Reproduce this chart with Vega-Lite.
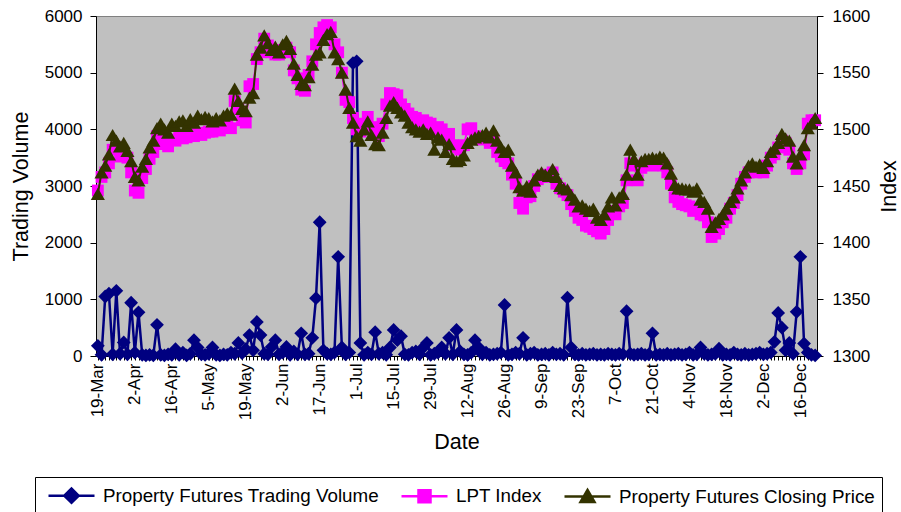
{
  "$schema": "https://vega.github.io/schema/vega-lite/v6.json",
  "width": 721,
  "height": 340,
  "autosize": {"type": "none"},
  "padding": {"left": 96, "top": 16, "right": 84, "bottom": 156},
  "background": "white",
  "config": {
    "font": "Liberation Sans",
    "view": {"fill": "#C0C0C0", "stroke": "#808080", "strokeWidth": 1},
    "axis": {"labelColor": "black", "titleColor": "black", "tickColor": "black", "domainColor": "black", "titleFontWeight": "normal", "labelFont": "Liberation Sans", "titleFont": "Liberation Sans", "grid": false}
  },
  "data": {"values": [
    {"d":"19-Mar","vol":180,"lpt":1446,"close":1443},
    {"d":"20-Mar","vol":20,"lpt":1458,"close":1462},
    {"d":"21-Mar","vol":1050,"lpt":1462,"close":1468},
    {"d":"24-Mar","vol":1100,"lpt":1470,"close":1478},
    {"d":"25-Mar","vol":30,"lpt":1482,"close":1495},
    {"d":"26-Mar","vol":1150,"lpt":1484,"close":1490},
    {"d":"27-Mar","vol":40,"lpt":1476,"close":1485},
    {"d":"28-Mar","vol":240,"lpt":1479,"close":1488},
    {"d":"31-Mar","vol":30,"lpt":1475,"close":1481},
    {"d":"1-Apr","vol":940,"lpt":1462,"close":1472},
    {"d":"2-Apr","vol":60,"lpt":1446,"close":1458},
    {"d":"3-Apr","vol":770,"lpt":1444,"close":1455},
    {"d":"4-Apr","vol":20,"lpt":1457,"close":1467},
    {"d":"7-Apr","vol":10,"lpt":1465,"close":1474},
    {"d":"8-Apr","vol":20,"lpt":1474,"close":1484},
    {"d":"9-Apr","vol":10,"lpt":1480,"close":1490},
    {"d":"10-Apr","vol":550,"lpt":1494,"close":1501},
    {"d":"11-Apr","vol":20,"lpt":1492,"close":1505},
    {"d":"14-Apr","vol":10,"lpt":1487,"close":1500},
    {"d":"15-Apr","vol":30,"lpt":1485,"close":1497},
    {"d":"16-Apr","vol":20,"lpt":1491,"close":1505},
    {"d":"17-Apr","vol":120,"lpt":1490,"close":1503},
    {"d":"22-Apr","vol":20,"lpt":1493,"close":1507},
    {"d":"23-Apr","vol":60,"lpt":1492,"close":1508},
    {"d":"24-Apr","vol":10,"lpt":1493,"close":1503},
    {"d":"28-Apr","vol":40,"lpt":1495,"close":1509},
    {"d":"29-Apr","vol":280,"lpt":1494,"close":1506},
    {"d":"30-Apr","vol":150,"lpt":1496,"close":1512},
    {"d":"1-May","vol":30,"lpt":1495,"close":1509},
    {"d":"2-May","vol":20,"lpt":1497,"close":1511},
    {"d":"5-May","vol":40,"lpt":1498,"close":1510},
    {"d":"6-May","vol":150,"lpt":1498,"close":1507},
    {"d":"7-May","vol":20,"lpt":1500,"close":1510},
    {"d":"8-May","vol":10,"lpt":1499,"close":1508},
    {"d":"9-May","vol":30,"lpt":1502,"close":1512},
    {"d":"12-May","vol":20,"lpt":1503,"close":1514},
    {"d":"13-May","vol":60,"lpt":1501,"close":1513},
    {"d":"14-May","vol":40,"lpt":1525,"close":1536},
    {"d":"15-May","vol":230,"lpt":1518,"close":1525},
    {"d":"16-May","vol":50,"lpt":1508,"close":1518},
    {"d":"19-May","vol":120,"lpt":1506,"close":1516},
    {"d":"20-May","vol":370,"lpt":1538,"close":1528},
    {"d":"21-May","vol":100,"lpt":1540,"close":1532},
    {"d":"22-May","vol":600,"lpt":1562,"close":1566},
    {"d":"23-May","vol":370,"lpt":1568,"close":1572},
    {"d":"26-May","vol":40,"lpt":1580,"close":1583},
    {"d":"27-May","vol":30,"lpt":1574,"close":1576},
    {"d":"28-May","vol":160,"lpt":1568,"close":1570},
    {"d":"29-May","vol":280,"lpt":1566,"close":1573},
    {"d":"30-May","vol":30,"lpt":1566,"close":1568},
    {"d":"2-Jun","vol":60,"lpt":1570,"close":1575},
    {"d":"3-Jun","vol":160,"lpt":1572,"close":1578},
    {"d":"4-Jun","vol":20,"lpt":1568,"close":1571},
    {"d":"5-Jun","vol":80,"lpt":1552,"close":1558},
    {"d":"6-Jun","vol":30,"lpt":1545,"close":1548},
    {"d":"10-Jun","vol":400,"lpt":1535,"close":1540},
    {"d":"11-Jun","vol":30,"lpt":1534,"close":1539},
    {"d":"12-Jun","vol":40,"lpt":1548,"close":1546},
    {"d":"13-Jun","vol":320,"lpt":1560,"close":1557},
    {"d":"16-Jun","vol":1020,"lpt":1575,"close":1566},
    {"d":"17-Jun","vol":2360,"lpt":1585,"close":1568},
    {"d":"18-Jun","vol":100,"lpt":1590,"close":1579},
    {"d":"19-Jun","vol":40,"lpt":1592,"close":1584},
    {"d":"20-Jun","vol":30,"lpt":1590,"close":1586},
    {"d":"23-Jun","vol":60,"lpt":1575,"close":1568},
    {"d":"24-Jun","vol":1750,"lpt":1568,"close":1562},
    {"d":"25-Jun","vol":150,"lpt":1550,"close":1550},
    {"d":"26-Jun","vol":30,"lpt":1526,"close":1535},
    {"d":"27-Jun","vol":60,"lpt":1524,"close":1519},
    {"d":"30-Jun","vol":5170,"lpt":1510,"close":1506},
    {"d":"1-Jul","vol":5200,"lpt":1500,"close":1494},
    {"d":"2-Jul","vol":230,"lpt":1498,"close":1490},
    {"d":"3-Jul","vol":20,"lpt":1505,"close":1500},
    {"d":"4-Jul","vol":60,"lpt":1511,"close":1507},
    {"d":"7-Jul","vol":30,"lpt":1502,"close":1495},
    {"d":"8-Jul","vol":420,"lpt":1496,"close":1487},
    {"d":"9-Jul","vol":40,"lpt":1494,"close":1486},
    {"d":"10-Jul","vol":60,"lpt":1505,"close":1497},
    {"d":"11-Jul","vol":20,"lpt":1522,"close":1510},
    {"d":"14-Jul","vol":150,"lpt":1532,"close":1521},
    {"d":"15-Jul","vol":460,"lpt":1531,"close":1524},
    {"d":"16-Jul","vol":280,"lpt":1530,"close":1519},
    {"d":"17-Jul","vol":350,"lpt":1522,"close":1515},
    {"d":"18-Jul","vol":30,"lpt":1518,"close":1512},
    {"d":"21-Jul","vol":20,"lpt":1514,"close":1506},
    {"d":"22-Jul","vol":60,"lpt":1511,"close":1502},
    {"d":"23-Jul","vol":80,"lpt":1510,"close":1500},
    {"d":"24-Jul","vol":30,"lpt":1507,"close":1498},
    {"d":"25-Jul","vol":150,"lpt":1508,"close":1500},
    {"d":"28-Jul","vol":230,"lpt":1506,"close":1496},
    {"d":"29-Jul","vol":20,"lpt":1505,"close":1497},
    {"d":"30-Jul","vol":40,"lpt":1499,"close":1482},
    {"d":"31-Jul","vol":60,"lpt":1502,"close":1493},
    {"d":"1-Aug","vol":150,"lpt":1500,"close":1491},
    {"d":"4-Aug","vol":40,"lpt":1492,"close":1480},
    {"d":"5-Aug","vol":320,"lpt":1496,"close":1487},
    {"d":"6-Aug","vol":30,"lpt":1486,"close":1474},
    {"d":"7-Aug","vol":460,"lpt":1484,"close":1472},
    {"d":"8-Aug","vol":80,"lpt":1482,"close":1473},
    {"d":"11-Aug","vol":30,"lpt":1486,"close":1477},
    {"d":"12-Aug","vol":20,"lpt":1500,"close":1488},
    {"d":"13-Aug","vol":60,"lpt":1501,"close":1491},
    {"d":"14-Aug","vol":280,"lpt":1494,"close":1493},
    {"d":"15-Aug","vol":150,"lpt":1492,"close":1494},
    {"d":"18-Aug","vol":30,"lpt":1491,"close":1495},
    {"d":"19-Aug","vol":60,"lpt":1493,"close":1497},
    {"d":"20-Aug","vol":20,"lpt":1488,"close":1493},
    {"d":"21-Aug","vol":30,"lpt":1490,"close":1499},
    {"d":"22-Aug","vol":40,"lpt":1480,"close":1490},
    {"d":"25-Aug","vol":60,"lpt":1476,"close":1484},
    {"d":"26-Aug","vol":900,"lpt":1472,"close":1480},
    {"d":"27-Aug","vol":20,"lpt":1470,"close":1482},
    {"d":"28-Aug","vol":30,"lpt":1460,"close":1468},
    {"d":"29-Aug","vol":60,"lpt":1452,"close":1462},
    {"d":"1-Sep","vol":40,"lpt":1435,"close":1449},
    {"d":"2-Sep","vol":320,"lpt":1430,"close":1446},
    {"d":"3-Sep","vol":20,"lpt":1440,"close":1450},
    {"d":"4-Sep","vol":40,"lpt":1441,"close":1445},
    {"d":"5-Sep","vol":60,"lpt":1450,"close":1455},
    {"d":"8-Sep","vol":20,"lpt":1456,"close":1460},
    {"d":"9-Sep","vol":30,"lpt":1458,"close":1462},
    {"d":"10-Sep","vol":40,"lpt":1460,"close":1460},
    {"d":"11-Sep","vol":20,"lpt":1458,"close":1459},
    {"d":"12-Sep","vol":60,"lpt":1462,"close":1465},
    {"d":"15-Sep","vol":30,"lpt":1452,"close":1458},
    {"d":"16-Sep","vol":40,"lpt":1448,"close":1450},
    {"d":"17-Sep","vol":20,"lpt":1445,"close":1448},
    {"d":"18-Sep","vol":1030,"lpt":1442,"close":1447},
    {"d":"19-Sep","vol":150,"lpt":1434,"close":1442},
    {"d":"22-Sep","vol":30,"lpt":1428,"close":1438},
    {"d":"23-Sep","vol":20,"lpt":1422,"close":1432},
    {"d":"24-Sep","vol":40,"lpt":1420,"close":1433},
    {"d":"25-Sep","vol":20,"lpt":1415,"close":1430},
    {"d":"26-Sep","vol":30,"lpt":1414,"close":1428},
    {"d":"29-Sep","vol":40,"lpt":1412,"close":1430},
    {"d":"30-Sep","vol":20,"lpt":1410,"close":1422},
    {"d":"1-Oct","vol":30,"lpt":1408,"close":1420},
    {"d":"2-Oct","vol":20,"lpt":1412,"close":1425},
    {"d":"3-Oct","vol":40,"lpt":1420,"close":1432},
    {"d":"6-Oct","vol":30,"lpt":1428,"close":1440},
    {"d":"7-Oct","vol":20,"lpt":1425,"close":1433},
    {"d":"8-Oct","vol":40,"lpt":1432,"close":1440},
    {"d":"9-Oct","vol":30,"lpt":1435,"close":1443},
    {"d":"10-Oct","vol":790,"lpt":1455,"close":1460},
    {"d":"13-Oct","vol":40,"lpt":1470,"close":1482},
    {"d":"14-Oct","vol":20,"lpt":1468,"close":1474},
    {"d":"15-Oct","vol":30,"lpt":1455,"close":1460},
    {"d":"16-Oct","vol":40,"lpt":1466,"close":1472},
    {"d":"17-Oct","vol":20,"lpt":1470,"close":1474},
    {"d":"20-Oct","vol":30,"lpt":1470,"close":1474},
    {"d":"21-Oct","vol":400,"lpt":1468,"close":1475},
    {"d":"22-Oct","vol":20,"lpt":1469,"close":1474},
    {"d":"23-Oct","vol":30,"lpt":1470,"close":1476},
    {"d":"24-Oct","vol":20,"lpt":1468,"close":1475},
    {"d":"27-Oct","vol":40,"lpt":1462,"close":1470},
    {"d":"28-Oct","vol":20,"lpt":1452,"close":1461},
    {"d":"29-Oct","vol":30,"lpt":1440,"close":1451},
    {"d":"30-Oct","vol":40,"lpt":1436,"close":1448},
    {"d":"31-Oct","vol":20,"lpt":1434,"close":1448},
    {"d":"3-Nov","vol":30,"lpt":1433,"close":1447},
    {"d":"4-Nov","vol":60,"lpt":1432,"close":1447},
    {"d":"5-Nov","vol":20,"lpt":1428,"close":1445},
    {"d":"6-Nov","vol":30,"lpt":1430,"close":1448},
    {"d":"7-Nov","vol":150,"lpt":1425,"close":1438},
    {"d":"10-Nov","vol":40,"lpt":1424,"close":1436},
    {"d":"11-Nov","vol":20,"lpt":1418,"close":1430},
    {"d":"12-Nov","vol":30,"lpt":1405,"close":1414},
    {"d":"13-Nov","vol":40,"lpt":1408,"close":1418},
    {"d":"14-Nov","vol":130,"lpt":1412,"close":1421},
    {"d":"17-Nov","vol":20,"lpt":1418,"close":1425},
    {"d":"18-Nov","vol":30,"lpt":1422,"close":1430},
    {"d":"19-Nov","vol":20,"lpt":1430,"close":1436},
    {"d":"20-Nov","vol":60,"lpt":1435,"close":1440},
    {"d":"21-Nov","vol":30,"lpt":1442,"close":1448},
    {"d":"24-Nov","vol":20,"lpt":1452,"close":1455},
    {"d":"25-Nov","vol":40,"lpt":1458,"close":1462},
    {"d":"26-Nov","vol":20,"lpt":1462,"close":1468},
    {"d":"27-Nov","vol":30,"lpt":1464,"close":1470},
    {"d":"28-Nov","vol":40,"lpt":1462,"close":1467},
    {"d":"1-Dec","vol":60,"lpt":1463,"close":1469},
    {"d":"2-Dec","vol":30,"lpt":1462,"close":1466},
    {"d":"3-Dec","vol":40,"lpt":1468,"close":1472},
    {"d":"4-Dec","vol":60,"lpt":1475,"close":1480},
    {"d":"5-Dec","vol":250,"lpt":1478,"close":1483},
    {"d":"8-Dec","vol":760,"lpt":1484,"close":1488},
    {"d":"9-Dec","vol":500,"lpt":1490,"close":1496},
    {"d":"10-Dec","vol":100,"lpt":1488,"close":1492},
    {"d":"11-Dec","vol":230,"lpt":1482,"close":1490},
    {"d":"12-Dec","vol":40,"lpt":1470,"close":1476},
    {"d":"15-Dec","vol":780,"lpt":1465,"close":1470},
    {"d":"16-Dec","vol":1750,"lpt":1470,"close":1478},
    {"d":"17-Dec","vol":220,"lpt":1478,"close":1486},
    {"d":"18-Dec","vol":60,"lpt":1505,"close":1501},
    {"d":"19-Dec","vol":20,"lpt":1508,"close":1505},
    {"d":"22-Dec","vol":10,"lpt":1508,"close":1510}
  ]},
  "encoding": {
    "x": {
      "field": "d", "type": "ordinal", "sort": null,
      "scale": {"type": "point", "padding": 0.5},
      "axis": {
        "title": "Date", "titleFontSize": 21.5, "titlePadding": 12,
        "labelAngle": 270, "labelFontSize": 17, "labelPadding": 3, "tickSize": 4,
        "labelOverlap": false,
        "labelExpr": "indexof(['19-Mar','2-Apr','16-Apr','5-May','19-May','2-Jun','17-Jun','1-Jul','15-Jul','29-Jul','12-Aug','26-Aug','9-Sep','23-Sep','7-Oct','21-Oct','4-Nov','18-Nov','2-Dec','16-Dec'], datum.value) >= 0 ? datum.value : ''"
      }
    }
  },
  "layer": [
    {
      "encoding": {
        "y": {
          "field": "vol", "type": "quantitative",
          "scale": {"domain": [0, 6000], "nice": false, "zero": true},
          "axis": {"orient": "left", "title": "Trading Volume", "values": [0,1000,2000,3000,4000,5000,6000], "labelFontSize": 17, "titleFontSize": 21.5, "tickSize": 6, "labelPadding": 8, "titlePadding": 12, "format": "d"}
        }
      },
      "layer": [
        {
          "mark": {"type": "line", "strokeWidth": 2.5},
          "encoding": {
            "color": {
              "datum": "Property Futures Trading Volume", "type": "nominal",
              "scale": {"domain": ["Property Futures Trading Volume", "LPT Index", "Property Futures Closing Price"], "range": ["#000080", "#FF00FF", "#333300"]},
              "legend": {
                "title": null, "orient": "none", "legendX": -61, "legendY": 461, "direction": "horizontal",
                "symbolSize": 400, "symbolStrokeWidth": 2.5, "symbolOffset": 18, "labelFontSize": 18.8, "labelFont": "Liberation Sans", "labelColor": "black",
                "labelOffset": 20, "columnPadding": 16, "padding": 7, "strokeColor": "black", "fillColor": "white", "labelLimit": 400,
                "encoding": {
                  "symbols": {
                    "shape": {"value": {"expr": "datum.value === 'LPT Index' ? 'M-2.3,0H2.3M-0.6,-0.6H0.6V0.6H-0.6Z' : datum.value === 'Property Futures Closing Price' ? 'M-2.3,0H2.3M0,-0.65L0.7,0.55L-0.7,0.55Z' : 'M-2.3,0H2.3M-0.72,0L0,-0.72L0.72,0L0,0.72Z'"}},
                    "fill": {"value": {"expr": "datum.value === 'LPT Index' ? '#FF00FF' : datum.value === 'Property Futures Closing Price' ? '#333300' : '#000080'"}},
                    "stroke": {"value": {"expr": "datum.value === 'LPT Index' ? '#FF00FF' : datum.value === 'Property Futures Closing Price' ? '#333300' : '#000080'"}},
                    "opacity": {"value": 1}
                  }
                }
              }
            }
          }
        },
        {
          "mark": {"type": "point", "shape": "diamond", "filled": true, "size": 190, "color": "#000080", "opacity": 1}
        }
      ]
    },
    {
      "layer": [
        {
          "mark": {"type": "line", "strokeWidth": 2},
          "encoding": {
            "y": {"field": "lpt", "type": "quantitative", "scale": {"domain": [1300, 1600], "nice": false, "zero": false},
              "axis": {"orient": "right", "title": "Index", "values": [1300,1350,1400,1450,1500,1550,1600], "labelFontSize": 17, "titleFontSize": 21.5, "tickSize": 6, "labelPadding": 9, "titlePadding": 31, "titleAngle": 270, "format": "d"}},
            "color": {"datum": "LPT Index", "type": "nominal"}
          }
        },
        {
          "mark": {"type": "point", "shape": "square", "filled": true, "size": 140, "color": "#FF00FF", "opacity": 1},
          "encoding": {
            "y": {"field": "lpt", "type": "quantitative", "scale": {"domain": [1300, 1600], "nice": false, "zero": false},
              "axis": {"orient": "right", "title": "Index", "values": [1300,1350,1400,1450,1500,1550,1600], "labelFontSize": 17, "titleFontSize": 21.5, "tickSize": 6, "labelPadding": 9, "titlePadding": 31, "titleAngle": 270, "format": "d"}}
          }
        },
        {
          "mark": {"type": "line", "strokeWidth": 2},
          "encoding": {
            "y": {"field": "close", "type": "quantitative", "scale": {"domain": [1300, 1600], "nice": false, "zero": false},
              "axis": {"orient": "right", "title": "Index", "values": [1300,1350,1400,1450,1500,1550,1600], "labelFontSize": 17, "titleFontSize": 21.5, "tickSize": 6, "labelPadding": 9, "titlePadding": 31, "titleAngle": 270, "format": "d"}},
            "color": {"datum": "Property Futures Closing Price", "type": "nominal"}
          }
        },
        {
          "mark": {"type": "point", "shape": "triangle-up", "filled": true, "size": 200, "color": "#333300", "opacity": 1},
          "encoding": {
            "y": {"field": "close", "type": "quantitative", "scale": {"domain": [1300, 1600], "nice": false, "zero": false},
              "axis": {"orient": "right", "title": "Index", "values": [1300,1350,1400,1450,1500,1550,1600], "labelFontSize": 17, "titleFontSize": 21.5, "tickSize": 6, "labelPadding": 9, "titlePadding": 31, "titleAngle": 270, "format": "d"}}
          }
        }
      ]
    }
  ],
  "resolve": {"scale": {"y": "independent"}}
}
